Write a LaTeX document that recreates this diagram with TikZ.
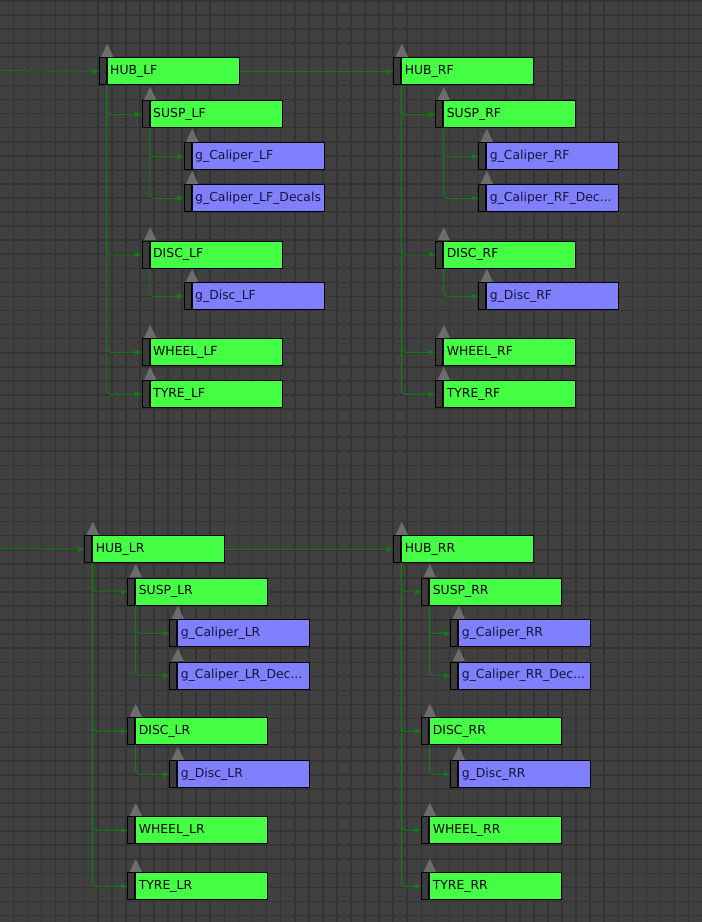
\documentclass[tikz,border=0pt]{standalone}
\usepackage{fontspec}
\setmainfont{DejaVu Sans}
\usetikzlibrary{arrows.meta}

\definecolor{bgcol}{RGB}{64,64,64}
\definecolor{gridcol}{RGB}{52,52,52}
\definecolor{grpcol}{RGB}{68,255,68}
\definecolor{meshcol}{RGB}{128,128,255}
\definecolor{tabcol}{RGB}{58,58,58}
\definecolor{tricol}{RGB}{108,108,108}
\definecolor{linkcol}{RGB}{18,125,18}
\definecolor{meshtxt}{RGB}{20,20,55}

\begin{document}
\begin{tikzpicture}[
  x=1pt, y=-1pt,
  font=\fontsize{12.4}{14}\selectfont,
  >={Triangle[length=6.5pt,width=5pt]},
  tab/.style={draw=black,line width=1pt,fill=tabcol,minimum width=7pt,
    minimum height=27pt,inner sep=0pt,anchor=north west},
  box/.style={draw=black,line width=1pt,minimum height=27pt,text width=126pt,
    inner xsep=3pt,inner ysep=0pt,anchor=north west,align=left},
  grp/.style={box,fill=grpcol,text=black},
  mesh/.style={box,fill=meshcol,text=meshtxt},
  link/.style={->,linkcol,line width=0.9pt,rounded corners=4pt},
  gridline/.style={gridcol,line width=1.6pt}
]

% fundal + grila schematica
\fill[bgcol] (0,0) rectangle (702,922);
\useasboundingbox (0,0) rectangle (702,922);
\foreach \i in {0,...,49} \draw[gridline] ({13.3+\i*14.07},0) -- ++(0,922);
\foreach \j in {0,...,65} \draw[gridline] (0,{1+\j*14.07}) -- ++(702,0);

% --- macro pentru un nod: #1 = nume, #2 = x tab, #3 = y sus, #4 = stil, #5 = text ---
\newcommand{\schnode}[5]{
  \node[tab] (#1-tab) at (#2,#3) {};
  \node[#4] (#1) at (#1-tab.north east) {#5};
  \fill[tricol] ([xshift=2.3pt,yshift=0.5pt]#1-tab.north west)
     -- ++(6.2,-13) -- ++(6.2,13) -- cycle;                 % marcaj sus
}

% roata fata stanga
\schnode{hublf}{98.7}{57.3}{grp}{HUB\_LF}
\schnode{susplf}{141.7}{100.3}{grp}{SUSP\_LF}
\schnode{calplf}{183.7}{142.3}{mesh}{g\_Caliper\_LF}
\schnode{caldlf}{183.7}{184.3}{mesh}{g\_Caliper\_LF\_Decals}
\schnode{disclf}{141.7}{240.7}{grp}{DISC\_LF}
\schnode{gdisclf}{183.7}{282.3}{mesh}{g\_Disc\_LF}
\schnode{wheellf}{141.7}{338.3}{grp}{WHEEL\_LF}
\schnode{tyrelf}{141.7}{380.3}{grp}{TYRE\_LF}

% roata fata dreapta
\schnode{hubrf}{393.3}{57.3}{grp}{HUB\_RF}
\schnode{susprf}{435.3}{100.3}{grp}{SUSP\_RF}
\schnode{calprf}{478.3}{142.3}{mesh}{g\_Caliper\_RF}
\schnode{caldrf}{478.3}{184.3}{mesh}{g\_Caliper\_RF\_Dec...}
\schnode{discrf}{435.3}{240.7}{grp}{DISC\_RF}
\schnode{gdiscrf}{478.3}{282.3}{mesh}{g\_Disc\_RF}
\schnode{wheelrf}{435.3}{338.3}{grp}{WHEEL\_RF}
\schnode{tyrerf}{435.3}{380.3}{grp}{TYRE\_RF}

% roata spate stanga
\schnode{hublr}{84.3}{535.3}{grp}{HUB\_LR}
\schnode{susplr}{127.3}{577.7}{grp}{SUSP\_LR}
\schnode{calplr}{169.3}{619.3}{mesh}{g\_Caliper\_LR}
\schnode{caldlr}{169.3}{661.7}{mesh}{g\_Caliper\_LR\_Dec...}
\schnode{disclr}{127.3}{717.3}{grp}{DISC\_LR}
\schnode{gdisclr}{169.3}{760.3}{mesh}{g\_Disc\_LR}
\schnode{wheellr}{127.3}{816.3}{grp}{WHEEL\_LR}
\schnode{tyrelr}{127.3}{872.3}{grp}{TYRE\_LR}

% roata spate dreapta
\schnode{hubrr}{393.3}{535.3}{grp}{HUB\_RR}
\schnode{susprr}{421.3}{577.7}{grp}{SUSP\_RR}
\schnode{calprr}{450.3}{619.3}{mesh}{g\_Caliper\_RR}
\schnode{caldrr}{450.3}{661.7}{mesh}{g\_Caliper\_RR\_Dec...}
\schnode{discrr}{421.3}{717.3}{grp}{DISC\_RR}
\schnode{gdiscrr}{450.3}{760.3}{mesh}{g\_Disc\_RR}
\schnode{wheelrr}{421.3}{816.3}{grp}{WHEEL\_RR}
\schnode{tyrerr}{421.3}{872.3}{grp}{TYRE\_RR}

% legaturi intre butuci
\coordinate (inlf) at (0,70.8);
\coordinate (inlr) at (0,548.8);
\draw[link] (inlf) -- (hublf-tab.west);
\draw[link] (hublf.east) -- (hubrf-tab.west);
\draw[link] (inlr) -- (hublr-tab.west);
\draw[link] (hublr.east) -- (hubrr-tab.west);

% ierarhie parinte -> copil
\foreach \p/\c in {hublf/susplf,hublf/disclf,hublf/wheellf,hublf/tyrelf,
                   susplf/calplf,susplf/caldlf,disclf/gdisclf,
                   hubrf/susprf,hubrf/discrf,hubrf/wheelrf,hubrf/tyrerf,
                   susprf/calprf,susprf/caldrf,discrf/gdiscrf,
                   hublr/susplr,hublr/disclr,hublr/wheellr,hublr/tyrelr,
                   susplr/calplr,susplr/caldlr,disclr/gdisclr,
                   hubrr/susprr,hubrr/discrr,hubrr/wheelrr,hubrr/tyrerr,
                   susprr/calprr,susprr/caldrr,discrr/gdiscrr}
  \draw[link] (\p.south west) |- (\c-tab.west);

\end{tikzpicture}
\end{document}
